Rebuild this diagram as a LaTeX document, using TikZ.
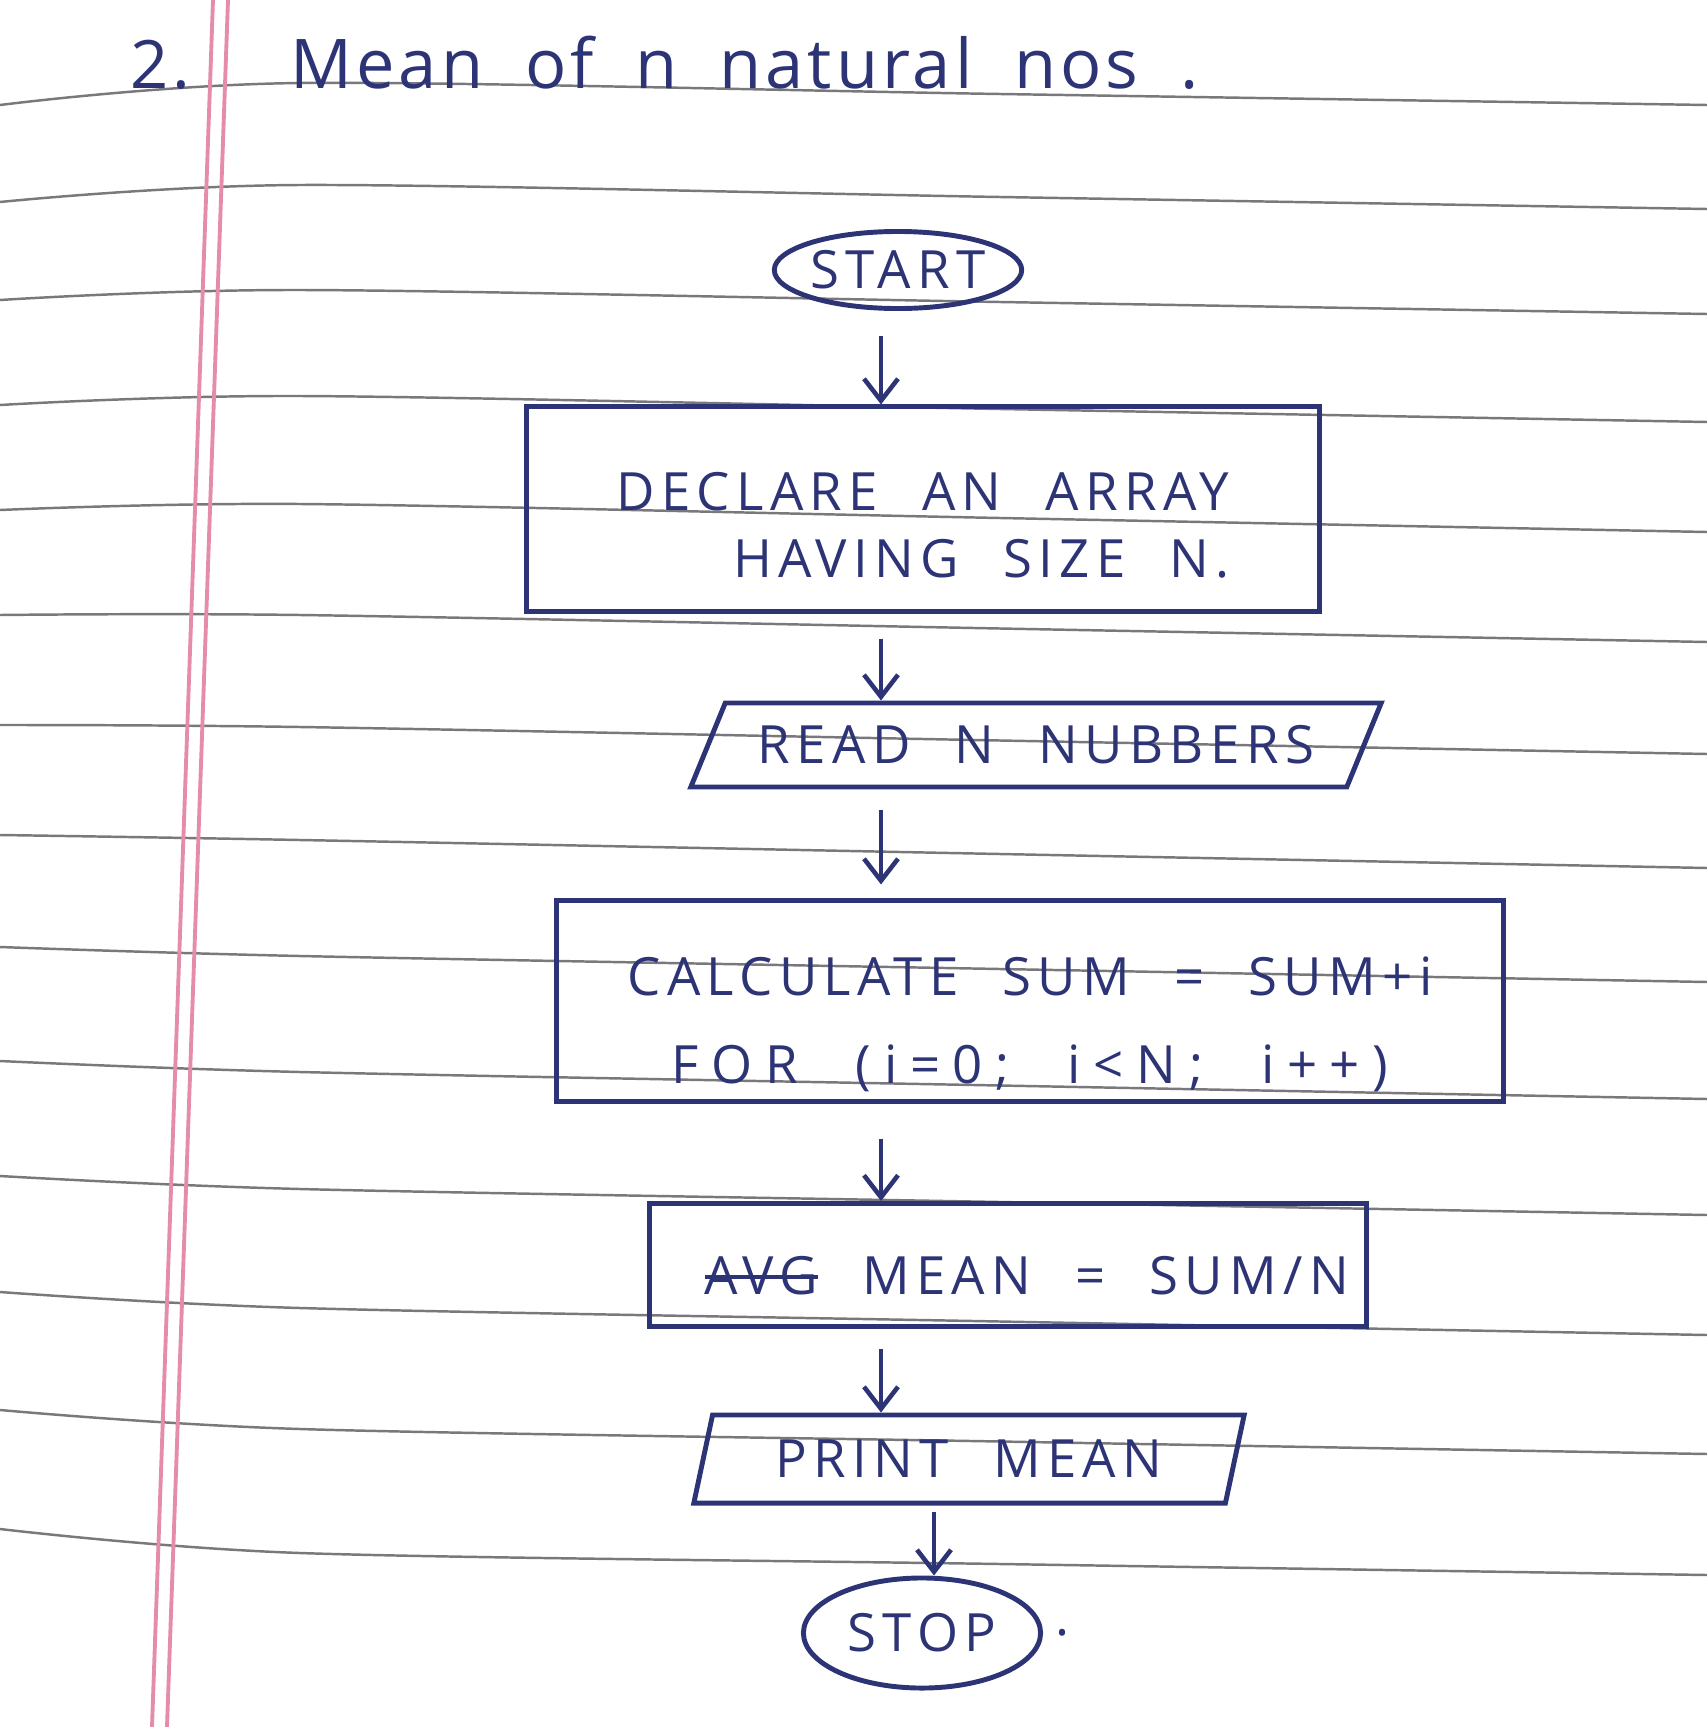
\documentclass[tikz,border=0pt]{standalone}
\usepackage{fontspec}
\usetikzlibrary{shapes.geometric,arrows.meta}
\newfontfamily\handfont[LetterSpace=12,WordSpace=2.2]{Open Sans}
\newfontfamily\titlefont[LetterSpace=6,WordSpace=1.9]{Open Sans}
\definecolor{ink}{RGB}{45,52,118}
\definecolor{rule}{RGB}{120,120,125}
\definecolor{margin}{RGB}{228,140,170}
\newsavebox\struckbox
\newcommand\struck[1]{\sbox\struckbox{#1}\rlap{\rule[0.3em]{\wd\struckbox}{1.2pt}}\usebox\struckbox}
\newcommand\lowered[2]{\raisebox{-#1}[\height][\depth]{#2}}
\tikzset{
  shape line/.style={draw=ink,line width=1.4pt},
  terminal/.style={shape line,ellipse,minimum width=2.37cm,minimum height=0.77cm,inner sep=0pt},
  process/.style={shape line,rectangle},
  io/.style={shape line,trapezium,trapezium stretches body},
  arr/.style={draw=ink,line width=1.3pt,-{Straight Barb[length=2.2mm,width=3.4mm]},shorten <=0.25cm},
  ruling/.style={draw=rule,line width=0.7pt},
  marginline/.style={draw=margin,line width=1.1pt},
}

\begin{document}
\begin{tikzpicture}[x=0.01cm,y=-0.01cm,font=\handfont\fontsize{15}{19}\selectfont,text=ink]
  \useasboundingbox (0,0) rectangle (1707,1727);
  % ruled paper
  \foreach \l/\m/\r in {105/83/105,202/185/209,300/290/314,405/396/422,510/504/532,615/615/642,725/727/754,835/840/868,947/956/982,1061/1072/1099,1176/1189/1215,1292/1308/1335,1410/1429/1454,1529/1553/1575}{
    \pgfmathsetmacro\q{(\m+\r)/2}
    \draw[ruling] plot[smooth] coordinates {(0,\l) (300,\m) (1000,\q) (1707,\r)};
  }
  \draw[marginline] (213,0) -- (152,1727);
  \draw[marginline] (228,0) -- (167,1727);

  \node[font=\titlefont\fontsize{19}{22}\selectfont,anchor=base] (num) at (160,88) {2.};
  \node[font=\titlefont\fontsize{19.5}{22}\selectfont,anchor=base west] (title) at (278,88) {Mean of n natural nos .};

  \node[terminal] (start) at (898,270) {START};
  \node[process,minimum width=7.93cm,minimum height=2.04cm] (declare) at (923,509)
    {\lowered{0.22cm}{\begin{tabular}{@{}r@{}}DECLARE AN ARRAY\\HAVING SIZE N.\end{tabular}}};
  \node[io,trapezium left angle=61,trapezium right angle=119,minimum width=6.9cm,minimum height=0.84cm] (read) at (1036,745) {READ N NUBBERS};
  \node[process,minimum width=9.47cm,minimum height=2cm] (calc) at (1030,1001)
    {\lowered{0.25cm}{\begin{tabular}{@{}c@{}}CALCULATE SUM = SUM+i\\[6pt]{\addfontfeature{LetterSpace=24}FOR (i=0; i<N; i++)}\end{tabular}}};
  \node[process,minimum width=7.16cm,minimum height=1.23cm,inner xsep=0.1cm] (mean) at (1008,1265)
    {\lowered{0.11cm}{\hspace*{0.38cm}\struck{AVG} MEAN = SUM/N}};
  \node[io,trapezium left angle=73,trapezium right angle=107,minimum width=5.5cm,minimum height=0.88cm] (print) at (969,1459) {PRINT MEAN};
  \node[terminal,minimum height=1.1cm] (stop) at (922,1633) {STOP};
  \node[anchor=west] (dot) at (stop.east) {.};

  \coordinate (spine) at (881,0);
  \draw[arr] (start.south -| spine) -- (declare.north -| spine);
  \draw[arr] (declare.south -| spine) -- (read.north -| spine);
  \draw[arr,shorten <=0.2cm,shorten >=0.14cm] (read.south -| spine) -- (calc.north -| spine);
  \draw[arr,shorten <=0.35cm] (calc.south -| spine) -- (mean.north -| spine);
  \draw[arr,shorten <=0.2cm] (mean.south -| spine) -- (print.north -| spine);
  \draw[arr,shorten <=0.06cm] ([xshift=0.12cm]print.south -| stop) -- ([xshift=0.12cm]stop.north);
\end{tikzpicture}
\end{document}
